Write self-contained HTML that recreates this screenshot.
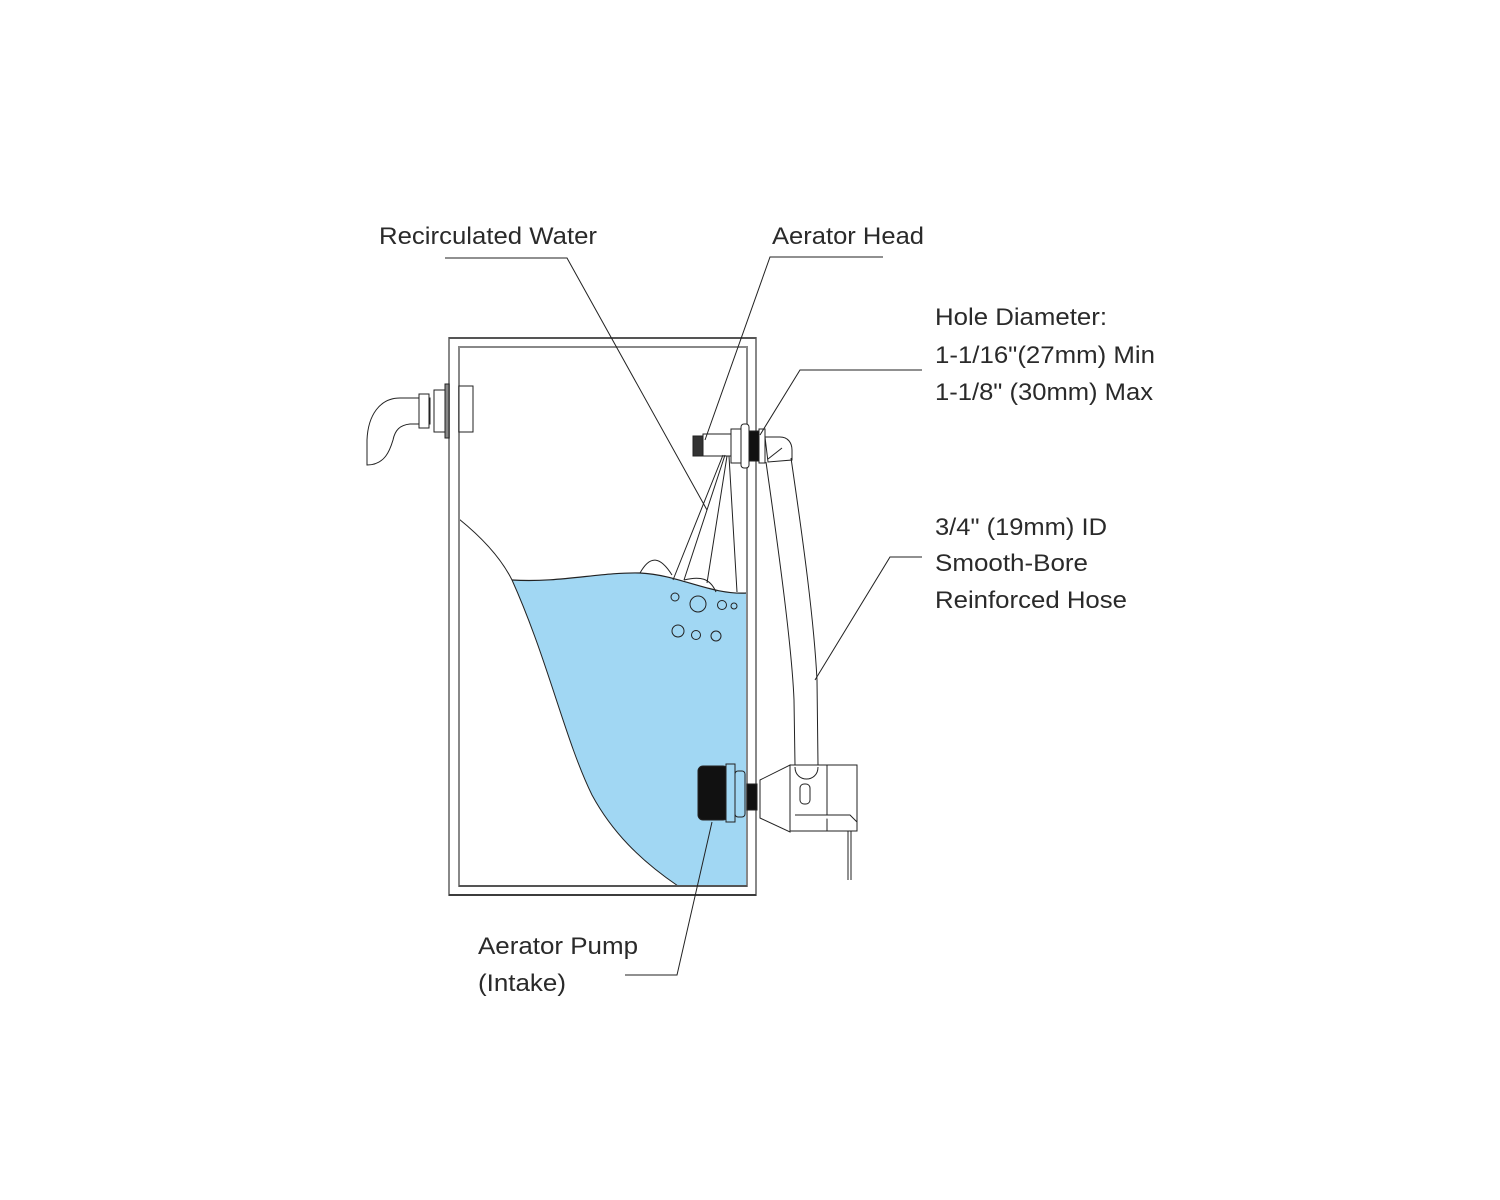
<!DOCTYPE html>
<html><head><meta charset="utf-8"><style>
html,body{margin:0;padding:0;background:#fff;}
svg{display:block;}
text{font-family:"Liberation Sans",Arial,sans-serif;font-size:24px;fill:#2a2a2a;}
</style></head><body>
<svg width="1500" height="1200" viewBox="0 0 1500 1200" xmlns="http://www.w3.org/2000/svg">
<!-- water -->
<path d="M512,580 C560,583 600,572 640,573 C680,575 710,595 747,593 L747,886 L678,886 C640,860 612,832 592,795 C565,740 548,660 512,580 Z" fill="#a1d7f3"/>
<path d="M459,519 C485,540 502,560 512,580 C548,660 565,740 592,795 C612,832 640,860 678,886" fill="none" stroke="#222" stroke-width="1"/>
<path d="M512,580 C560,583 600,572 640,573 C680,575 710,595 747,593" fill="none" stroke="#222" stroke-width="1.2"/>
<path d="M640,573 C650,555 660,556 672,575 M684,580 C700,576 710,578 716,592" fill="none" stroke="#222" stroke-width="1"/>
<!-- bubbles -->
<g fill="none" stroke="#222" stroke-width="1">
<circle cx="675" cy="597" r="4"/><circle cx="698" cy="604" r="8"/><circle cx="722" cy="605" r="4.5"/><circle cx="734" cy="606" r="3"/>
<circle cx="678" cy="631" r="6"/><circle cx="696" cy="635" r="4.5"/><circle cx="716" cy="636" r="5"/>
</g>
<!-- tank -->
<rect x="449" y="338" width="307" height="557" fill="none" stroke="#888" stroke-width="2"/>
<rect x="459" y="347" width="288" height="539" fill="none" stroke="#888" stroke-width="2"/>
<line x1="449" y1="338" x2="756" y2="338" stroke="#222" stroke-width="1"/>
<line x1="449" y1="895" x2="756" y2="895" stroke="#222" stroke-width="1.5"/>
<line x1="459" y1="886" x2="747" y2="886" stroke="#222" stroke-width="1"/>
<!-- left outlet -->
<g fill="#fff" stroke="#222" stroke-width="1">
<path d="M430,398 L400,398 C380,398 368,415 367,440 L367,465 C385,465 390,450 393,440 C395,430 400,425 410,424 L430,424 Z"/>
<rect x="419" y="394" width="10" height="34"/>
<rect x="434" y="390" width="15" height="42"/>
<rect x="445" y="384" width="4" height="54" fill="#888"/>
<rect x="459" y="386" width="14" height="46"/>
</g>
<!-- aerator head -->
<g stroke="#222" stroke-width="1" fill="#fff">
<rect x="693" y="436" width="10" height="20" fill="#333"/>
<rect x="703" y="434" width="28" height="22"/>
<rect x="731" y="429" width="10" height="34"/>
<rect x="741" y="424" width="8" height="44" rx="3"/>
<rect x="749" y="431" width="10" height="30" fill="#111"/>
<rect x="759" y="429" width="6" height="34"/>
<path d="M765,437 L780,437 C788,437 792,443 792,450 L792,460 L768,462 Z"/>
<line x1="768" y1="459" x2="782" y2="448"/>
</g>
<!-- spray lines -->
<g stroke="#222" stroke-width="1" fill="none">
<path d="M723,455 L673,580 M725,455 L684,580 M727,456 L707,583 M729,456 L737,592"/>
</g>
<!-- hose -->
<path d="M766,462 C780,560 792,650 794,700 L795,765" fill="none" stroke="#222" stroke-width="1"/>
<path d="M791,458 C803,540 814,620 817,680 L818,765" fill="none" stroke="#222" stroke-width="1"/>
<!-- intake -->
<g stroke="#222" stroke-width="1">
<rect x="698" y="766" width="30" height="54" rx="5" fill="#111"/>
<rect x="726" y="764" width="9" height="58" fill="#a1d7f3"/>
<rect x="735" y="771" width="10" height="46" rx="3" fill="#a1d7f3"/>
<rect x="747" y="784" width="10" height="26" fill="#111"/>
</g>
<!-- pump -->
<g stroke="#222" stroke-width="1" fill="#fff">
<path d="M760,780 L790,765 L790,832 L760,818 Z"/>
<rect x="790" y="765" width="67" height="66"/>
<rect x="800" y="784" width="10" height="20" rx="4"/>
<path d="M795,767 C795,783 818,783 818,767"/>
<line x1="827" y1="765" x2="827" y2="831"/>
<path d="M795,815 L850,815 L857,822"/>
<line x1="848" y1="831" x2="848" y2="880"/>
<line x1="851" y1="831" x2="851" y2="880"/>
</g>
<!-- leaders -->
<g stroke="#222" stroke-width="1" fill="none">
<path d="M445,258 L567,258 L707,510"/>
<path d="M883,257 L770,257 L705,440"/>
<path d="M922,370 L800,370 L760,435"/>
<path d="M922,557 L890,557 L815,680"/>
<path d="M625,975 L677,975 L712,822"/>
</g>
<!-- labels -->
<text x="379" y="244" textLength="218" lengthAdjust="spacingAndGlyphs">Recirculated Water</text>
<text x="772" y="244" textLength="152" lengthAdjust="spacingAndGlyphs">Aerator Head</text>
<text x="935" y="325" textLength="172" lengthAdjust="spacingAndGlyphs">Hole Diameter:</text>
<text x="935" y="363" textLength="220" lengthAdjust="spacingAndGlyphs">1-1/16"(27mm) Min</text>
<text x="935" y="400" textLength="218" lengthAdjust="spacingAndGlyphs">1-1/8" (30mm) Max</text>
<text x="935" y="535" textLength="172" lengthAdjust="spacingAndGlyphs">3/4" (19mm) ID</text>
<text x="935" y="571" textLength="153" lengthAdjust="spacingAndGlyphs">Smooth-Bore</text>
<text x="935" y="608" textLength="192" lengthAdjust="spacingAndGlyphs">Reinforced Hose</text>
<text x="478" y="954" textLength="160" lengthAdjust="spacingAndGlyphs">Aerator Pump</text>
<text x="478" y="991" textLength="88" lengthAdjust="spacingAndGlyphs">(Intake)</text>
</svg>
</body></html>
